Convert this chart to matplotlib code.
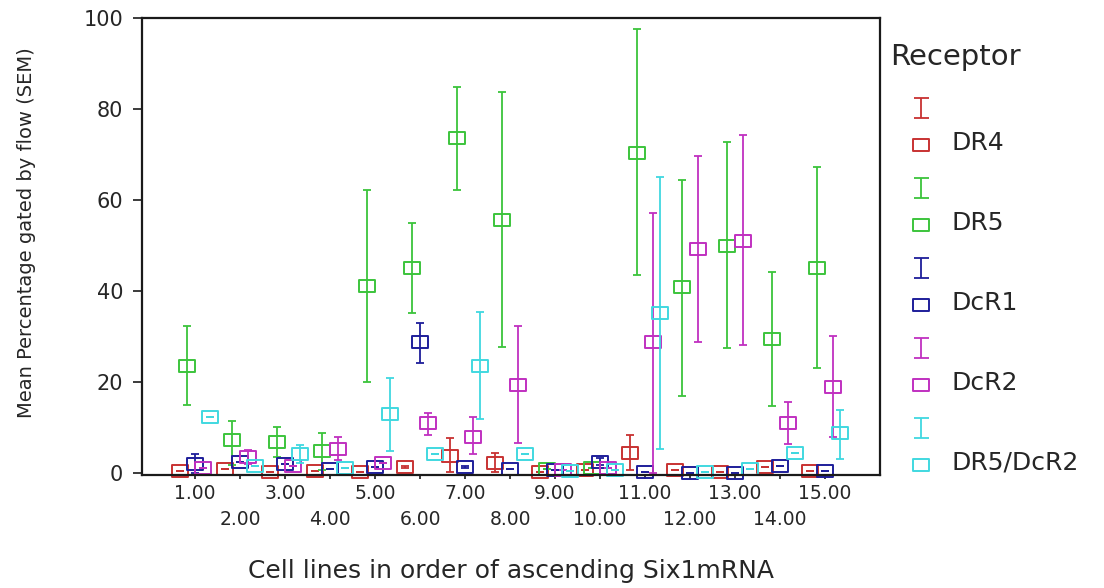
import matplotlib
matplotlib.use('Agg')
import matplotlib.pyplot as plt
from matplotlib.path import Path

plt.rcParams['font.family'] = ['DejaVu Sans']

# cell lines 1..15, mean % gated and SEM bar ends (low / high) per receptor
cells = list(range(1, 16))

dr4 = [0.4, 0.9, 0.3, 0.4, 0.3, 1.3, 3.7, 2.2, 0.2, 0.6, 4.5, 0.6, 0.3, 1.3, 0.5]
dr4_lo = [0.4, 0.9, 0.3, 0.4, 0.3, 1.0, 0.2, 0.2, 0.2, 0.6, 0.7, 0.6, 0.3, 1.3, 0.5]
dr4_hi = [0.4, 0.9, 0.3, 0.4, 0.3, 1.6, 7.7, 4.4, 0.2, 0.6, 8.4, 0.6, 0.3, 1.3, 0.5]

dr5 = [23.5, 7.3, 6.8, 4.8, 41.1, 45.1, 73.6, 55.6, 0.9, 1.1, 70.3, 40.9, 49.9, 29.5, 45.1]
dr5_lo = [14.9, 1.8, 3.5, 0.7, 20.0, 35.2, 62.2, 27.7, 0.9, 1.1, 43.5, 16.9, 27.5, 14.7, 23.1]
dr5_hi = [32.3, 11.4, 10.1, 8.8, 62.2, 54.9, 84.8, 83.7, 0.9, 1.1, 97.6, 64.4, 72.7, 44.2, 67.3]

dcr1 = [2.0, 2.4, 2.0, 0.9, 1.3, 28.8, 1.3, 0.9, 0.7, 2.4, 0.2, 0.0, 0.0, 1.5, 0.5]
dcr1_lo = [0.0, 2.4, 2.0, 0.9, 1.3, 24.2, 1.0, 0.9, 0.7, 1.8, 0.2, 0.0, 0.0, 1.5, 0.5]
dcr1_hi = [4.2, 2.4, 2.0, 0.9, 1.3, 33.0, 1.6, 0.9, 0.7, 3.3, 0.2, 0.0, 0.0, 1.5, 0.5]

dcr2 = [1.1, 3.5, 1.5, 5.3, 2.2, 11.0, 7.9, 19.3, 0.7, 1.1, 28.8, 49.2, 51.0, 11.0, 18.9]
dcr2_lo = [1.1, 2.0, 1.5, 2.9, 2.2, 8.4, 4.2, 6.6, 0.7, 1.1, 0.0, 28.8, 28.1, 6.4, 7.9]
dcr2_hi = [1.1, 5.1, 1.5, 7.9, 2.2, 13.2, 12.3, 32.3, 0.7, 1.1, 57.1, 69.7, 74.3, 15.6, 30.1]

dr5dcr2 = [12.3, 1.5, 4.2, 1.1, 13.0, 4.2, 23.5, 4.2, 0.4, 0.7, 35.2, 0.2, 0.9, 4.4, 8.8]
dr5dcr2_lo = [12.3, 1.5, 2.2, 1.1, 4.8, 4.2, 11.9, 4.2, 0.4, 0.7, 5.3, 0.2, 0.9, 4.4, 3.1]
dr5dcr2_hi = [12.3, 1.5, 6.2, 1.1, 20.9, 4.2, 35.4, 4.2, 0.4, 0.7, 65.1, 0.2, 0.9, 4.4, 13.8]

receptors = ['DR4', 'DR5', 'DcR1', 'DcR2', 'DR5/DcR2']
colors = ['#c83232', '#3cc43c', '#1e1e9a', '#c030c0', '#40d8e0']
series = [(dr4, dr4_lo, dr4_hi), (dr5, dr5_lo, dr5_hi), (dcr1, dcr1_lo, dcr1_hi),
          (dcr2, dcr2_lo, dcr2_hi), (dr5dcr2, dr5dcr2_lo, dr5dcr2_hi)]
offsets = [-0.33, -0.17, 0.0, 0.17, 0.33]
txt = '#262626'

# flat open rectangle used as marker
box = Path([(-1, -0.68), (1, -0.68), (1, 0.68), (-1, 0.68), (-1, -0.68)], closed=True)

W, H = 1104, 588
fig = plt.figure(figsize=(W / 100, H / 100), dpi=100)
ax = fig.add_axes([142 / W, 1 - 475 / H, (880 - 142) / W, (475 - 18) / H])

for (mean, lo, hi), col, off in zip(series, colors, offsets):
    xs = [c + off for c in cells]
    err = [[m - l for m, l in zip(mean, lo)], [h - m for m, h in zip(mean, hi)]]
    ax.errorbar(xs, mean, yerr=err, fmt='none', ecolor=col, elinewidth=1.3,
                capsize=3, capthick=1.3, clip_on=False)
    ax.plot(xs, mean, linestyle='none', marker=box, ms=12, mfc='none',
            mec=col, mew=1.4, clip_on=False)

ax.set_xlim(-0.18, 16.22)
ax.set_ylim(-0.44, 100)
ax.set_yticks(range(0, 101, 20))
ax.set_xticks(cells[::2])
ax.set_xticklabels(['%.2f' % c for c in cells[::2]])
ax.set_xticks(cells[1::2], minor=True)
ax.set_xticklabels(['%.2f' % c for c in cells[1::2]], minor=True)

for s in ax.spines.values():
    s.set_linewidth(1.6)
    s.set_color('#1a1a1a')
ax.tick_params(axis='y', direction='out', length=6.5, width=1.2, pad=7,
               labelsize=15, colors='#1a1a1a', labelcolor=txt)
ax.tick_params(axis='x', which='major', direction='out', length=3, width=1.2,
               pad=3.2, labelsize=13.5, colors='#1a1a1a', labelcolor=txt)
ax.tick_params(axis='x', which='minor', direction='out', length=3, width=1.2,
               pad=22.5, labelsize=13.5, colors='#1a1a1a', labelcolor=txt)

fig.text(27 / W, 1 - 233 / H, 'Mean Percentage gated by flow (SEM)', rotation=90,
         ha='center', va='center', fontsize=14, color=txt)
fig.text(511 / W, 1 - 571 / H, 'Cell lines in order of ascending Six1mRNA',
         ha='center', va='center', fontsize=18, color=txt)

# legend drawn in a pixel-coordinate overlay
lax = fig.add_axes([0, 0, 1, 1], facecolor='none')
lax.set_xlim(0, W)
lax.set_ylim(H, 0)
lax.axis('off')
lax.text(890, 57, 'Receptor', ha='left', va='center', fontsize=21, color=txt)
for i, (name, col) in enumerate(zip(receptors, colors)):
    y0 = 108 + 80 * i
    lax.errorbar([921], [y0], yerr=[[10], [10]], fmt='none', ecolor=col,
                 elinewidth=1.3, capsize=5.4, capthick=1.3)
    lax.plot([921], [y0 + 37], linestyle='none', marker=box, ms=12, mfc='none',
             mec=col, mew=1.4)
    lax.text(952, y0 + 35, name, ha='left', va='center', fontsize=18, color=txt)

fig.savefig('out.png', dpi=100)
